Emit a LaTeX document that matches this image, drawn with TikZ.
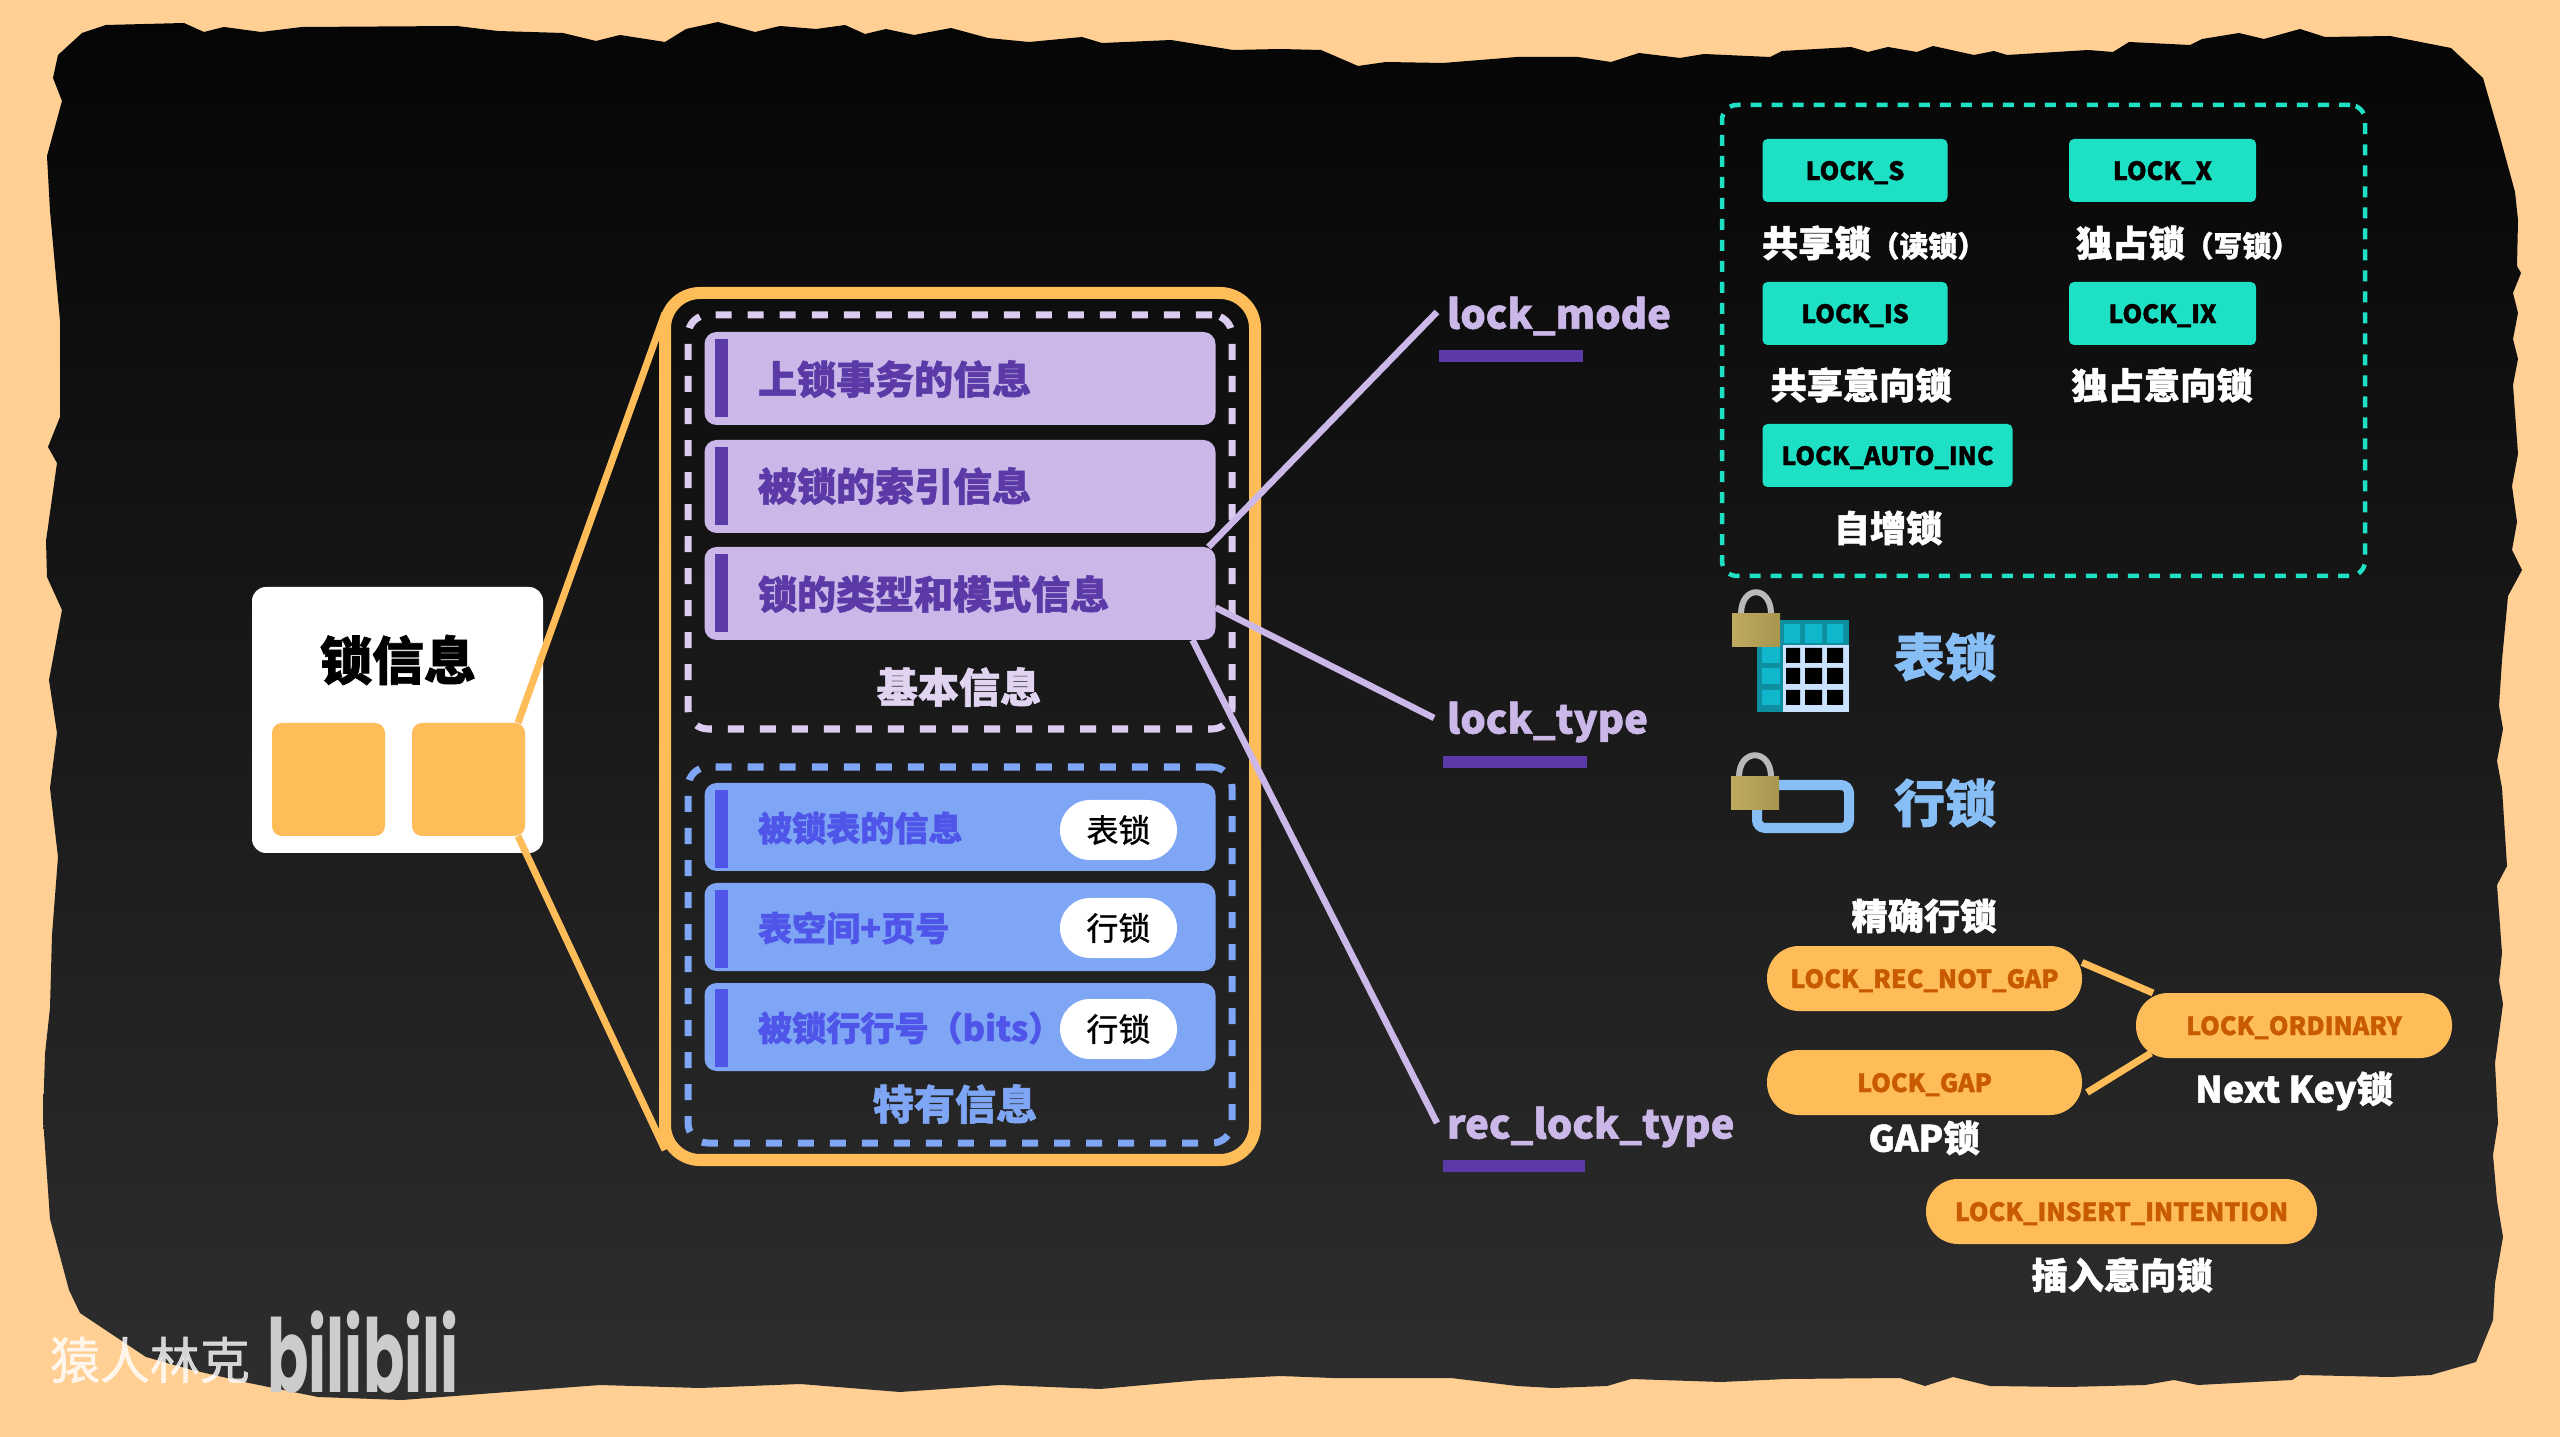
\documentclass[tikz,border=0pt]{standalone}
\usepackage{fontspec}
\setmainfont{Noto Sans CJK SC}[BoldFeatures={FakeBold=1.3}]
\newfontfamily\bilifont[FakeStretch=0.6]{Poppins}
\newfontfamily\markfont[FakeBold=1]{Noto Sans CJK SC}
\usepackage{tikz}
\definecolor{peach}{HTML}{FFCF94}
\definecolor{amber}{HTML}{FFBD59}
\definecolor{rust}{HTML}{C85A00}
\definecolor{lilac}{HTML}{CBB8E8}
\definecolor{grape}{HTML}{5B3AA8}
\definecolor{sky}{HTML}{7EA6F5}
\definecolor{indigo}{HTML}{4F55E8}
\definecolor{mint}{HTML}{1EE0C4}
\definecolor{iceblue}{HTML}{88BEF6}
\definecolor{tealrim}{HTML}{0E8FA0}
\definecolor{tealcell}{HTML}{10B6CC}
\definecolor{gridline}{HTML}{C8E2FF}
\definecolor{goldleft}{HTML}{BFAA60}
\definecolor{goldright}{HTML}{A8964F}

\begin{document}
\begin{tikzpicture}[x=0.01cm,y=-0.01cm]
            \tikzstyle{every node}=[inner sep=0pt,outer sep=0pt];
            \tikzstyle{sz}=[minimum width=#1*0.01cm];
            \tikzstyle{tall}=[minimum height=#1*0.01cm];
            \tikzstyle{captext}=[font=\bfseries\fontsize{11.7}{11.7}\selectfont];
            \tikzstyle{lbl}=[text=white,font=\bfseries\fontsize{10.3}{10.3}\selectfont];
            \tikzstyle{fieldname}=[anchor=west,text=lilac,font=\bfseries\fontsize{11.4}{11.4}\selectfont];
            \tikzstyle{purplerow}=[fill=lilac,rounded corners=0.12cm,sz=511,tall=93];
            \tikzstyle{bluerow}=[fill=sky,rounded corners=0.12cm,sz=511,tall=88];
            \tikzstyle{accent}=[sz=13,tall=78];
            \tikzstyle{ptext}=[anchor=west,text=grape,font=\bfseries\fontsize{11.1}{11.1}\selectfont];
            \tikzstyle{btext}=[anchor=west,text=indigo,font=\bfseries\fontsize{9.7}{9.7}\selectfont];
            \tikzstyle{pill}=[fill=white,rounded corners=0.3cm,sz=117,tall=60,text=black,font=\markfont\fontsize{9.1}{9.1}\selectfont];
            \tikzstyle{mintbox}=[fill=mint,rounded corners=0.05cm,tall=63,text=black,font=\bfseries\fontsize{7.15}{7.15}\selectfont];
            \tikzstyle{lockpill}=[fill=amber,rounded corners=0.32cm,tall=65,text=rust,font=\bfseries\fontsize{7.15}{7.15}\selectfont];
            \tikzstyle{link}=[line width=0.07cm,color=amber];
            \tikzstyle{feed}=[line width=0.065cm,color=lilac];
            \tikzstyle{gold}=[left color=goldleft,right color=goldright];
            \tikzstyle{shackle}=[line width=0.06cm,color=gray!55];
            \useasboundingbox (0,0) rectangle (2560,1437);
            \fill[peach] (0,0) rectangle (2560,1437);
            \path[top color=black!98,bottom color=black!82] (58,55) -- (82,33) -- (106,25) -- (184,23) -- (204,32) -- (224,27) -- (261,32) -- (302,27) -- (457,26) -- (498,31) -- (563,33) -- (596,41) -- (620,35) -- (665,42) -- (686,29) -- (718,22) -- (755,32) -- (780,26) -- (816,29) -- (845,25) -- (865,34) -- (886,29) -- (914,35) -- (951,28) -- (988,38) -- (1029,42) -- (1082,37) -- (1102,43) -- (1171,40) -- (1233,50) -- (1280,49) -- (1321,50) -- (1358,66) -- (1386,62) -- (1443,63) -- (1517,57) -- (1578,57) -- (1611,62) -- (1639,53) -- (1680,58) -- (1704,54) -- (1770,57) -- (1782,51) -- (1851,47) -- (1868,52) -- (1888,47) -- (1917,52) -- (1933,46) -- (1974,55) -- (1994,51) -- (2007,55) -- (2088,50) -- (2113,52) -- (2129,42) -- (2190,45) -- (2202,39) -- (2239,33) -- (2264,39) -- (2300,29) -- (2325,37) -- (2390,36) -- (2451,48) -- (2483,78) -- (2500,137) -- (2515,192) -- (2518,220) -- (2517,266) -- (2521,273) -- (2513,293) -- (2518,313) -- (2513,339) -- (2518,359) -- (2513,385) -- (2518,454) -- (2512,486) -- (2517,522) -- (2512,550) -- (2522,570) -- (2508,596) -- (2502,660) -- (2499,706) -- (2503,729) -- (2497,761) -- (2502,788) -- (2507,866) -- (2497,885) -- (2502,953) -- (2499,981) -- (2503,1004) -- (2495,1063) -- (2498,1123) -- (2493,1155) -- (2497,1201) -- (2503,1237) -- (2495,1283) -- (2493,1320) -- (2476,1362) -- (2431,1375) -- (2390,1377) -- (2300,1375) -- (2292,1380) -- (2198,1385) -- (2174,1380) -- (2145,1385) -- (2068,1387) -- (1990,1386) -- (1953,1377) -- (1925,1386) -- (1900,1378) -- (1786,1379) -- (1721,1382) -- (1631,1379) -- (1607,1386) -- (1553,1388) -- (1517,1386) -- (1451,1378) -- (1333,1378) -- (1280,1376) -- (1200,1380) -- (1100,1389) -- (1000,1385) -- (900,1392) -- (800,1384) -- (700,1388) -- (600,1385) -- (402,1400) -- (318,1397) -- (249,1383) -- (192,1370) -- (146,1357) -- (80,1313) -- (69,1290) -- (50,1219) -- (43,1118) -- (45,1054) -- (50,1008) -- (52,935) -- (58,857) -- (50,788) -- (57,733) -- (49,680) -- (62,610) -- (47,577) -- (46,541) -- (57,463) -- (48,447) -- (60,417) -- (60,321) -- (50,211) -- (47,156) -- (62,101) -- (53,78) -- cycle;

            \node (watermark) at (150,1360) [text=white,text opacity=0.8,font=\markfont\fontsize{14.2}{14.2}\selectfont] {猿人林克};
            \node (bililogo) at (363,1352) [text=black!20,font=\bilifont\bfseries\fontsize{29}{29}\selectfont] {bilibili};

            \node (card) at (397.5,720) [fill=white,rounded corners=0.14cm,sz=291,tall=266] {};
            \node (cardtitle) at (398,660) [text=black,font=\bfseries\fontsize{14.8}{14.8}\selectfont] {锁信息};
            \node (sqa) at (328.5,779.5) [fill=amber,rounded corners=0.1cm,sz=113,tall=113] {};
            \node (sqb) at (468.5,779.5) [fill=amber,rounded corners=0.1cm,sz=113,tall=113] {};

            \node (outer) at (960,726.5) [draw=amber,line width=0.12cm,rounded corners=0.35cm,sz=590,tall=867] {};
            \draw[link] ([xshift=-0.07cm]sqb.north east) -- ([yshift=-0.2cm]outer.north west);
            \draw[link] ([xshift=-0.07cm]sqb.south east) -- ([yshift=0.1cm]outer.south west);

            \node (basebox) at (960,522) [draw=lilac!70!white,line width=0.07cm,dash pattern=on 0.16cm off 0.16cm,rounded corners=0.2cm,sz=544,tall=414] {};
            \node (extrabox) at (960,955) [draw=sky,line width=0.07cm,dash pattern=on 0.16cm off 0.16cm,rounded corners=0.2cm,sz=544,tall=376] {};

            \node (txrow) at (960,378.5) [purplerow] {};
            \node (idxrow) at (960,486.5) [purplerow] {};
            \node (moderow) at (960,593.5) [purplerow] {};
            \node (txbar) at (721.5,378) [accent,fill=grape] {};
            \node (idxbar) at (721.5,486) [accent,fill=grape] {};
            \node (modebar) at (721.5,593) [accent,fill=grape] {};
            \node (txtext) at (758,379) [ptext] {上锁事务的信息};
            \node (idxtext) at (758,486) [ptext] {被锁的索引信息};
            \node (modetext) at (758,594) [ptext] {锁的类型和模式信息};
            \node (basecap) at (959,687) [captext,text=lilac!60!white] {基本信息};

            \node (tblrow) at (960,827) [bluerow] {};
            \node (pagerow) at (960,927) [bluerow] {};
            \node (bitrow) at (960,1027) [bluerow] {};
            \node (tblbar) at (721.5,829) [accent,fill=indigo] {};
            \node (pagebar) at (721.5,929) [accent,fill=indigo] {};
            \node (bitbar) at (721.5,1028) [accent,fill=indigo] {};
            \node (tbltext) at (758,828) [btext] {被锁表的信息};
            \node (pagetext) at (758,928) [btext] {表空间+页号};
            \node (bittext) at (758,1028) [btext] {被锁行行号（bits）};
            \node (tblpill) at (1118.5,830) [pill] {表锁};
            \node (pagepill) at (1118.5,928) [pill] {行锁};
            \node (bitpill) at (1118.5,1029) [pill] {行锁};
            \node (extracap) at (955,1104) [captext,text=sky] {特有信息};

            \node (lockmode) at (1447,316) [fieldname] {lock\_mode};
            \node (locktype) at (1447,722) [fieldname] {lock\_type};
            \node (rectype) at (1447,1127) [fieldname] {rec\_lock\_type};
            \node (modeline) at (1511,356) [fill=grape,sz=144,tall=12] {};
            \node (typeline) at (1515,762) [fill=grape,sz=144,tall=12] {};
            \node (recline) at (1514,1166) [fill=grape,sz=142,tall=12] {};
            \draw[feed] ([xshift=-0.07cm]moderow.north east) -- ([xshift=-0.1cm,yshift=0.04cm]lockmode.west);
            \draw[feed] ([yshift=-0.14cm]moderow.east) -- ([xshift=-0.13cm,yshift=0.04cm]locktype.west);
            \draw[feed] ([xshift=-0.23cm]moderow.south east) -- ([xshift=-0.1cm,yshift=0.04cm]rectype.west);

            \node (modebox) at (2043.5,340.5) [draw=mint,line width=0.045cm,dash pattern=on 0.11cm off 0.1cm,rounded corners=0.15cm,sz=643,tall=471] {};
            \node (lockS) at (1855,170.5) [mintbox,sz=185,text depth=0pt] {LOCK\_S};
            \node (lockX) at (2162.5,170.5) [mintbox,sz=187,text depth=0pt] {LOCK\_X};
            \node (lockIS) at (1855,313.5) [mintbox,sz=185,text depth=0pt] {LOCK\_IS};
            \node (lockIX) at (2162.5,313.5) [mintbox,sz=187,text depth=0pt] {LOCK\_IX};
            \node (lockAI) at (1887.5,455.5) [mintbox,sz=250,text depth=0pt] {LOCK\_AUTO\_INC};
            \node (sharelbl) at (1762,243) [lbl,anchor=west] {共享锁{\fontsize{8.2}{8.2}\selectfont（读锁）}};
            \node (excllbl) at (2076,243) [lbl,anchor=west] {独占锁{\fontsize{8.2}{8.2}\selectfont（写锁）}};
            \node (islbl) at (1861,385) [lbl] {共享意向锁};
            \node (ixlbl) at (2162,385) [lbl] {独占意向锁};
            \node (ailbl) at (1888,528) [lbl] {自增锁};

            \fill[tealrim] (1757,620) rectangle (1849,712);
            \fill[tealcell] (1784,624) rectangle (1800,643) (1805,624) rectangle (1822,643) (1827,624) rectangle (1843,643) (1762,647) rectangle (1780,663) (1762,668) rectangle (1780,684) (1762,690) rectangle (1780,705);
            \fill[gridline] (1783,645) rectangle (1849,712);
            \fill[black] (1786,648) rectangle (1800,663) (1805,648) rectangle (1822,663) (1827,648) rectangle (1843,663) (1786,668) rectangle (1800,684) (1805,668) rectangle (1822,684) (1827,668) rectangle (1843,684) (1786,690) rectangle (1800,705) (1805,690) rectangle (1822,705) (1827,690) rectangle (1843,705);
            \draw[shackle] (1741,614) .. controls (1741,585) and (1771,585) .. (1771,614);
            \fill[gold] (1732,614) rectangle (1780,647);
            \node (tablelbl) at (1945,657) [text=iceblue,font=\bfseries\fontsize{14.5}{14.5}\selectfont] {表锁};

            \node (rowicon) at (1803,806.5) [draw=iceblue,line width=0.1cm,rounded corners=0.08cm,sz=92,tall=43] {};
            \draw[shackle] (1739,777) .. controls (1739,748) and (1771,748) .. (1771,777);
            \fill[gold] (1731,777) rectangle (1779,810);
            \node (rowlbl) at (1945,803) [text=iceblue,font=\bfseries\fontsize{14.5}{14.5}\selectfont] {行锁};

            \node (recpill) at (1924.5,978.5) [lockpill,sz=315,text depth=0pt] {LOCK\_REC\_NOT\_GAP};
            \node (gappill) at (1924.5,1082.5) [lockpill,sz=315,text depth=0pt] {LOCK\_GAP};
            \node (ordpill) at (2294,1025.5) [lockpill,sz=316,text depth=0pt] {LOCK\_ORDINARY};
            \node (inspill) at (2121.5,1211.5) [lockpill,sz=391,text depth=0pt] {LOCK\_INSERT\_INTENTION};
            \draw[link] ([yshift=0.16cm]recpill.east) -- ([xshift=0.17cm]ordpill.north west);
            \draw[link] ([xshift=0.05cm,yshift=-0.1cm]gappill.east) -- ([xshift=0.15cm,yshift=0.05cm]ordpill.south west);
            \node (reclbl) at (1924,916) [lbl] {精确行锁};
            \node (gaplbl) at (1924,1138) [lbl] {GAP锁};
            \node (nextlbl) at (2294,1091) [lbl] {Next Key锁};
            \node (inslbl) at (2122,1275) [lbl] {插入意向锁};
        \end{tikzpicture}
\end{document}
